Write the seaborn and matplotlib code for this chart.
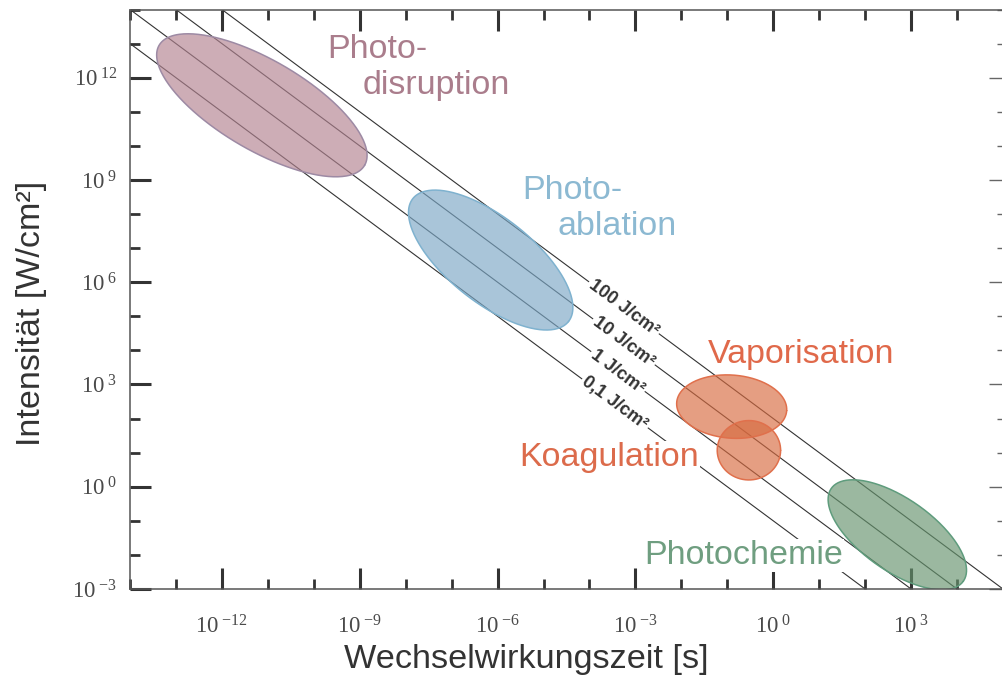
import numpy as np
import pandas as pd
import matplotlib
matplotlib.use("Agg")
import matplotlib.pyplot as plt
import seaborn as sns
from matplotlib.ticker import FixedLocator, FuncFormatter, NullFormatter

# ---- data -------------------------------------------------------------
# constant-fluence lines  I = F / t
fluences = [100, 10, 1, 0.1]
fluence_labels = ["100 J/cm²", "10 J/cm²", "1 J/cm²", "0,1 J/cm²"]
fluence_label_log_t = [-3.25, -3.25, -3.38, -3.445]
t_span = [1e-14, 1e5]

# interaction regions: centre (log10 t, log10 I) and two conjugate
# semi-diameters in decades
regions = ["Photodisruption", "Photoablation", "Vaporisation", "Koagulation", "Photochemie"]
center_log_t = [-11.13, -6.15, -0.905, -0.53, 2.70]
center_log_i = [11.19, 6.65, 2.35, 1.07, -1.41]
semi_u = [(2.236, -1.761), (1.694, -1.803), (1.197, -0.117), (0.690, 0.0), (1.437, -1.361)]
semi_v = [(-0.494, -1.140), (-0.575, -0.980), (-0.044, -0.924), (0.0, -0.871), (-0.452, -0.866)]

x_major = [1e-12, 1e-9, 1e-6, 1e-3, 1e0, 1e3]
y_major = [1e12, 1e9, 1e6, 1e3, 1e0, 1e-3]
x_minor = [10.0 ** k for k in range(-14, 6)]
y_minor = [10.0 ** k for k in range(-3, 15)]

# ---- style ------------------------------------------------------------
sns.set_theme(style="white")
plt.rcParams["font.family"] = ["Liberation Sans", "DejaVu Sans"]

fill_colors = ["#b28290", "#7ba7c6", "#d76a3f", "#d76a3f", "#65936d"]
edge_colors = ["#9d8aa4", "#7fb2cf", "#e0704c", "#e0704c", "#5f9c7d"]
text_colors = ["#aa7d8c", "#8cb9d2", "#e0694a", "#dc6b4b", "#6f9e80"]

fig = plt.figure(figsize=(10.03, 6.81), dpi=100)
ax = fig.add_axes([130 / 1003, 92 / 681, 873 / 1003, 579.5 / 681])
ax.set_xscale("log")
ax.set_yscale("log")

# fluence lines
line_df = pd.DataFrame(
    [{"t": t, "I": f / t, "F": f} for f in fluences for t in t_span]
)
sns.lineplot(data=line_df, x="t", y="I", units="F", estimator=None,
             color="#333333", lw=0.8, ax=ax, legend=False, zorder=1)

# regions
theta = np.linspace(0, 2 * np.pi, 300)
for i in range(len(regions)):
    ux, uy = semi_u[i]
    vx, vy = semi_v[i]
    lx = center_log_t[i] + ux * np.cos(theta) + vx * np.sin(theta)
    ly = center_log_i[i] + uy * np.cos(theta) + vy * np.sin(theta)
    ax.fill(10 ** lx, 10 ** ly, facecolor=fill_colors[i], alpha=0.65,
            edgecolor="none", zorder=2)
    ax.plot(10 ** lx, 10 ** ly, color=edge_colors[i], lw=1.1, zorder=2.5)

ax.set_xlim(1e-14, 1e5)
ax.set_ylim(1e-3, 1e14)

# ---- axes, ticks ------------------------------------------------------
def pow_label(v, pos):
    e = int(round(np.log10(v)))
    return r"$\mathregular{10\,{}^{%d}}$" % e

ax.xaxis.set_major_locator(FixedLocator(x_major))
ax.yaxis.set_major_locator(FixedLocator(y_major))
ax.xaxis.set_minor_locator(FixedLocator(x_minor))
ax.yaxis.set_minor_locator(FixedLocator(y_minor))
ax.xaxis.set_major_formatter(FuncFormatter(pow_label))
ax.yaxis.set_major_formatter(FuncFormatter(pow_label))
ax.xaxis.set_minor_formatter(NullFormatter())
ax.yaxis.set_minor_formatter(NullFormatter())

ax.tick_params(which="major", direction="in", length=15, width=2.2,
               color="#333333", top=True, right=False, bottom=True, left=True,
               labelsize=16.5, labelcolor="#4a4a4a",
               labelfontfamily="Liberation Serif")
ax.tick_params(which="minor", direction="in", length=7, width=2.0,
               color="#333333", top=True, right=False, bottom=True, left=True)
ax.tick_params(axis="x", which="major", pad=19)
ax.tick_params(axis="y", which="major", pad=9)

for side in ["left", "bottom", "top"]:
    ax.spines[side].set_color("#555555")
    ax.spines[side].set_linewidth(1.1)
ax.spines["right"].set_visible(False)

sec = ax.secondary_yaxis("right")
sec.yaxis.set_major_locator(FixedLocator(y_major))
sec.yaxis.set_minor_locator(FixedLocator(y_minor))
sec.yaxis.set_major_formatter(NullFormatter())
sec.yaxis.set_minor_formatter(NullFormatter())
sec.tick_params(which="major", direction="in", length=10, width=1.0, color="#666666")
sec.tick_params(which="minor", direction="in", length=4, width=1.0, color="#666666")
for s in sec.spines.values():
    s.set_visible(False)

ax.set_xlabel("Wechselwirkungszeit [s]", fontsize=24.7, color="#333333")
ax.set_ylabel("Intensität [W/cm²]", fontsize=24.5, color="#333333")
ax.xaxis.set_label_coords(0.4536, -0.095)
ax.yaxis.set_label_coords(-0.095, 0.475)

# ---- fluence labels ---------------------------------------------------
p0 = ax.transData.transform((1e-10, 1.0 / 1e-10))
p1 = ax.transData.transform((1e0, 1.0))
angle = np.degrees(np.arctan2(p1[1] - p0[1], p1[0] - p0[0]))
for f, lab, lt in zip(fluences, fluence_labels, fluence_label_log_t):
    t = 10 ** lt
    ax.text(t, f / t, lab, rotation=angle, rotation_mode="anchor",
            ha="center", va="center", fontsize=13, fontweight="bold",
            color="#333333", zorder=4,
            bbox=dict(facecolor="white", edgecolor="none", pad=1.5))

# ---- region labels ----------------------------------------------------
def px(x, y):
    return ((x - 130) / 873, (589 - y) / 579.5)

region_text = [
    ("Photo-", (327, 58), 0, False),
    ("disruption", (363, 94), 0, False),
    ("Photo-", (522, 199), 1, False),
    ("ablation", (558, 235), 1, False),
    ("Vaporisation", (708, 363), 2, False),
    ("Koagulation", (519, 466), 3, True),
    ("Photochemie", (644, 564), 4, True),
]
for txt, (x, y), ci, boxed in region_text:
    kw = {}
    if boxed:
        kw["bbox"] = dict(facecolor="white", edgecolor="none", pad=1.0)
    ax.text(*px(x, y), txt, transform=ax.transAxes, ha="left", va="baseline",
            fontsize=24.5, color=text_colors[ci], zorder=5, **kw)

fig.savefig("out.png", dpi=100)
